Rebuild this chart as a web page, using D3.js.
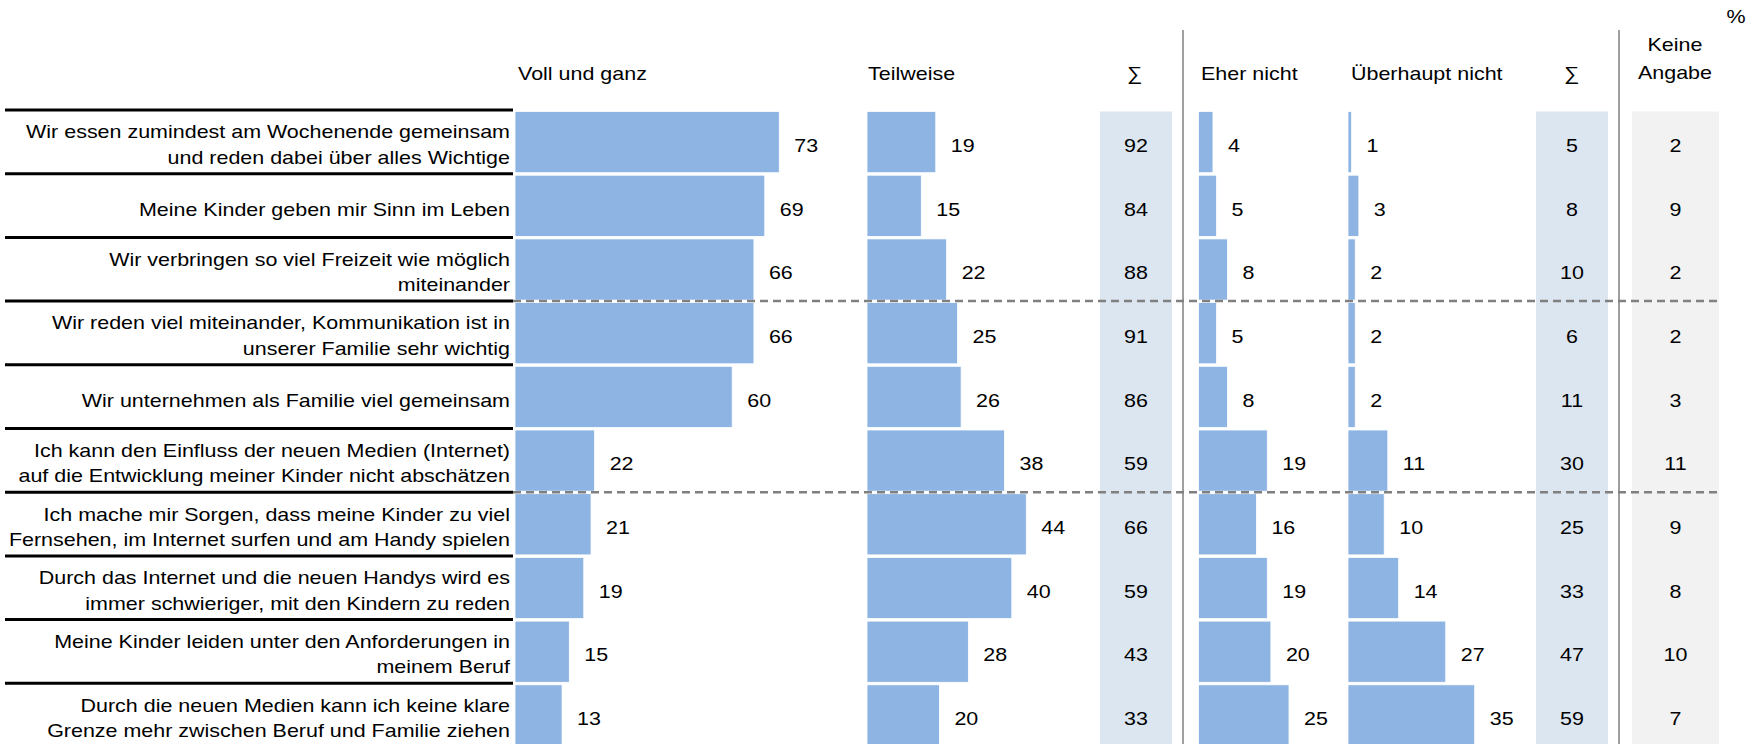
<!DOCTYPE html>
<html><head><meta charset="utf-8">
<script src="https://cdn.jsdelivr.net/npm/d3@7"></script>
<style>
html,body{margin:0;padding:0;background:#fff;overflow:hidden;}
text{font-family:"Liberation Sans",Arial,sans-serif;fill:#000;}
</style></head>
<body>
<svg id="chart" width="1754" height="744"></svg>
<script>
// ---- data ----
const statements = [
  ["Wir essen zumindest am Wochenende gemeinsam", "und reden dabei über alles Wichtige"],
  ["Meine Kinder geben mir Sinn im Leben"],
  ["Wir verbringen so viel Freizeit wie möglich", "miteinander"],
  ["Wir reden viel miteinander, Kommunikation ist in", "unserer Familie sehr wichtig"],
  ["Wir unternehmen als Familie viel gemeinsam"],
  ["Ich kann den Einfluss der neuen Medien (Internet)", "auf die Entwicklung meiner Kinder nicht abschätzen"],
  ["Ich mache mir Sorgen, dass meine Kinder zu viel", "Fernsehen, im Internet surfen und am Handy spielen"],
  ["Durch das Internet und die neuen Handys wird es", "immer schwieriger, mit den Kindern zu reden"],
  ["Meine Kinder leiden unter den Anforderungen in", "meinem Beruf"],
  ["Durch die neuen Medien kann ich keine klare", "Grenze mehr zwischen Beruf und Familie ziehen"]
];
const vollUndGanz     = [73, 69, 66, 66, 60, 22, 21, 19, 15, 13];
const teilweise       = [19, 15, 22, 25, 26, 38, 44, 40, 28, 20];
const sumAgree        = [92, 84, 88, 91, 86, 59, 66, 59, 43, 33];
const eherNicht       = [4, 5, 8, 5, 8, 19, 16, 19, 20, 25];
const ueberhauptNicht = [1, 3, 2, 2, 2, 11, 10, 14, 27, 35];
const sumDisagree     = [5, 8, 10, 6, 11, 30, 25, 33, 47, 59];
const keineAngabe     = [2, 9, 2, 2, 3, 11, 9, 8, 10, 7];
const headers = ["Voll und ganz", "Teilweise", "\u2211", "Eher nicht", "Überhaupt nicht", "\u2211"];
const keineHeader = ["Keine", "Angabe"];
const unitLabel = "%";
const dashedAfter = [3, 6]; // group separators (row indices where dashed line starts)

// ---- layout ----
const svg = d3.select("#chart");
const W = 1754, H = 744;
const FS = 19, SX = 1.13;
const rowTop = 110, rowH = 63.7;
const y = d3.scaleBand().domain(d3.range(statements.length)).range([rowTop, rowTop + rowH * statements.length]).padding(0);
const x = d3.scaleLinear().domain([0, 100]).range([0, 362]);
const barColor = "#8eb4e3";

function txt(g, tx, ty, s, anchor) {
  return g.append("text")
    .attr("transform", `translate(${tx},${ty}) scale(${SX},1)`)
    .attr("text-anchor", anchor || "start")
    .style("font-size", FS + "px")
    .text(s);
}

// backgrounds for sum columns
const sumCols = [
  {x0: 1100, x1: 1172, vals: sumAgree, fill: "#dce6f1"},
  {x0: 1536, x1: 1608, vals: sumDisagree, fill: "#dce6f1"},
  {x0: 1632, x1: 1719, vals: keineAngabe, fill: "#f2f2f2"}
];
sumCols.forEach(c => {
  svg.append("rect").attr("x", c.x0).attr("y", rowTop + 1.5)
    .attr("width", c.x1 - c.x0).attr("height", H - rowTop).attr("fill", c.fill);
});

// vertical separators
[1183, 1619].forEach(vx => {
  svg.append("line").attr("x1", vx).attr("x2", vx).attr("y1", 30).attr("y2", H)
    .attr("stroke", "#7f7f7f").attr("stroke-width", 1.5);
});

// bar series
const barCols = [
  {x0: 515, vals: vollUndGanz},
  {x0: 867, vals: teilweise},
  {x0: 1198.5, vals: eherNicht},
  {x0: 1348, vals: ueberhauptNicht}
];
const gBars = svg.append("g");
barCols.forEach(c => {
  gBars.selectAll(null).data(c.vals).join("rect")
    .attr("x", c.x0)
    .attr("y", (d, i) => y(i) + 1.5)
    .attr("width", d => x(d))
    .attr("height", y.bandwidth() - 2.5)
    .attr("fill", barColor)
    .attr("stroke", "#ffffff").attr("stroke-width", 0.8);
  const gl = svg.append("g");
  c.vals.forEach((d, i) => {
    txt(gl, c.x0 + x(d) + 15, y(i) + y.bandwidth() / 2 + 10, d);
  });
});

// sum/keine values
sumCols.forEach(c => {
  const gl = svg.append("g");
  c.vals.forEach((d, i) => {
    txt(gl, (c.x0 + c.x1) / 2, y(i) + y.bandwidth() / 2 + 10, d, "middle");
  });
});

// dashed separators
dashedAfter.forEach(i => {
  svg.append("line").attr("x1", 513).attr("x2", 1720)
    .attr("y1", y(i)).attr("y2", y(i))
    .attr("stroke", "#808080").attr("stroke-width", 2.5)
    .attr("stroke-dasharray", "8,5");
});

// row labels and black lines
const gLab = svg.append("g");
statements.forEach((lines, i) => {
  const cy = y(i) + y.bandwidth() / 2;
  if (lines.length === 1) {
    txt(gLab, 510, cy + 10, lines[0], "end");
  } else {
    txt(gLab, 510, cy - 3.5, lines[0], "end");
    txt(gLab, 510, cy + 22, lines[1], "end");
  }
  gLab.append("line").attr("x1", 5).attr("x2", 513)
    .attr("y1", y(i)).attr("y2", y(i))
    .attr("stroke", "#000").attr("stroke-width", 3);
});

// headers
const gH = svg.append("g");
const headerPos = [[518, "start"], [868, "start"], [1135, "middle"], [1201, "start"], [1351, "start"], [1572, "middle"]];
headers.forEach((h, k) => txt(gH, headerPos[k][0], 80, h, headerPos[k][1]));
txt(gH, 1675, 51, keineHeader[0], "middle");
txt(gH, 1675, 79, keineHeader[1], "middle");
txt(gH, 1736, 23, unitLabel, "middle");
</script>
</body></html>
